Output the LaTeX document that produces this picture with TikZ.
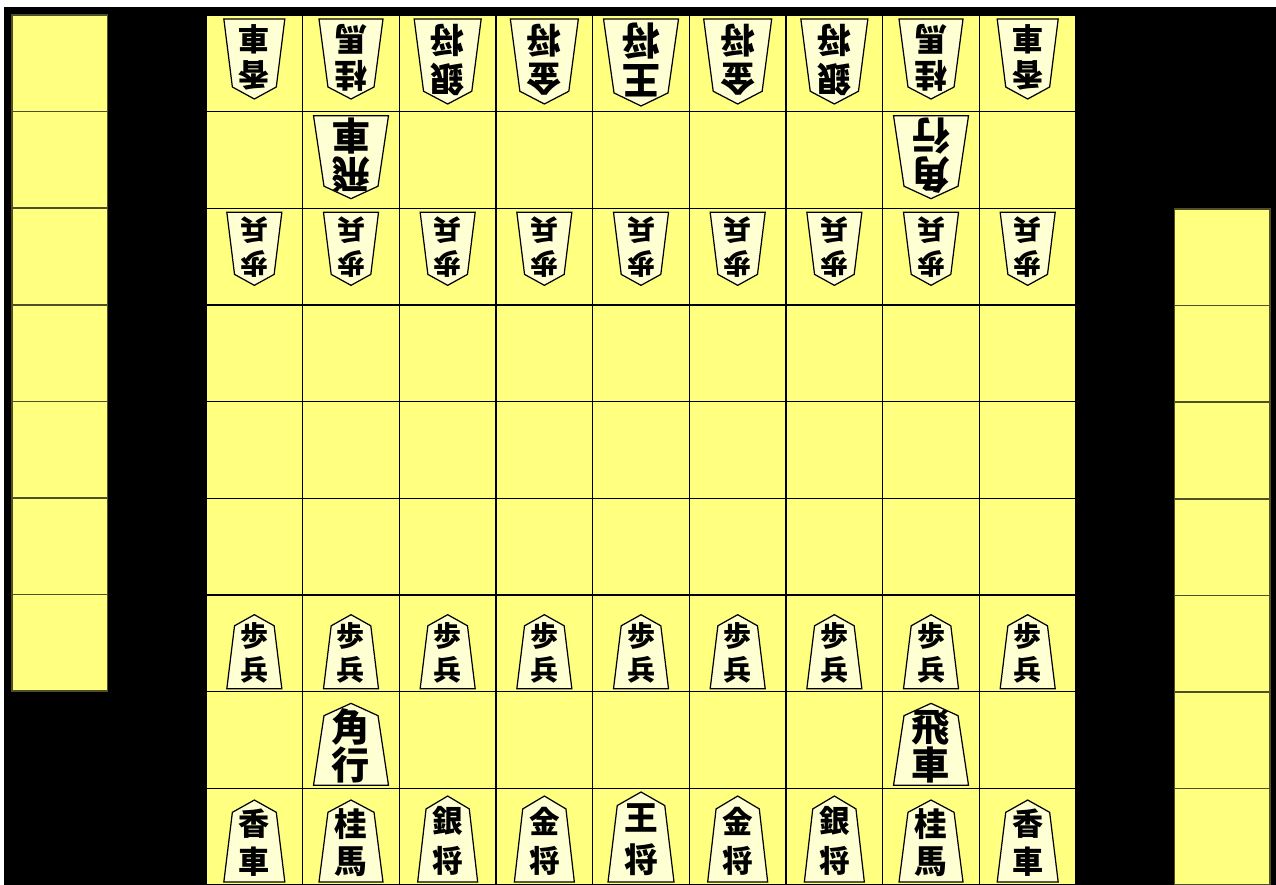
\documentclass[tikz,border=0pt]{standalone}
\usepackage{fontspec}
\newfontfamily\jpfont{Noto Sans CJK JP}
\usepackage{tikz}
\definecolor{brettgelb}{RGB}{255,255,128}
\definecolor{komagelb}{RGB}{255,255,212}
\definecolor{randgrau}{RGB}{80,80,40}
\def\feld{96.67}
% Stein von unten: Spalte, Reihe, Breite, Hoehe, Zeichen oben, Zeichen unten
\newcommand{\sente}[6]{%
	\pgfmathsetmacro\kx{206+(#1-.5)*\feld}%
	\pgfmathsetmacro\ky{15+#2*\feld-3}%
	\pgfmathsetmacro\fs{.29*#3}%
	\draw[koma] (\kx-.5*#3,\ky) -- ++(#3,0) -- ++(-.14*#3,-.85*#4) -- (\kx,\ky-#4) -- (\kx-.36*#3,\ky-.85*#4) -- cycle;
	\node[zeichen, font={\jpfont\bfseries\fontsize{\fs}{\fs}\selectfont}] (s-#1-#2-a) at (\kx,\ky-.71*#4) {#5};
	\node[zeichen, font={\jpfont\bfseries\fontsize{\fs}{\fs}\selectfont}] (s-#1-#2-b) at (\kx,\ky-.25*#4) {#6};
}
% Stein von oben (umgedreht)
\newcommand{\gote}[6]{%
	\pgfmathsetmacro\kx{206+(#1-.5)*\feld}%
	\pgfmathsetmacro\ky{15+(#2-1)*\feld+4}%
	\pgfmathsetmacro\fs{.29*#3}%
	\draw[koma] (\kx-.5*#3,\ky) -- ++(#3,0) -- ++(-.14*#3,.85*#4) -- (\kx,\ky+#4) -- (\kx-.36*#3,\ky+.85*#4) -- cycle;
	\node[zeichen, rotate=180, font={\jpfont\bfseries\fontsize{\fs}{\fs}\selectfont}] (g-#1-#2-a) at (\kx,\ky+.71*#4) {#5};
	\node[zeichen, rotate=180, font={\jpfont\bfseries\fontsize{\fs}{\fs}\selectfont}] (g-#1-#2-b) at (\kx,\ky+.25*#4) {#6};
}

\begin{document}
\begin{tikzpicture}[x=0.02cm, y=-0.02cm,
		feld/.style={draw=black, fill=brettgelb, line width=.8pt},
		hand/.style={draw=randgrau, fill=brettgelb, line width=.8pt},
		koma/.style={draw=black, fill=komagelb, line width=.7pt, line join=miter},
		zeichen/.style={inner sep=0pt, text=black}]
	% Hintergrund
	\useasboundingbox (0,0) rectangle (1276,885);
	\fill[white] (0,0) rectangle (1276,885);
	\fill[black] (4,7) rectangle (1276,885);
	% Spielbrett
	\foreach \r in {0,...,8}
		\foreach \c in {0,...,8}
			\draw[feld] ({206+\c*\feld},{15+\r*\feld}) rectangle ++(\feld,\feld);
	% Felder fuer geschlagene Steine
	\foreach \r in {0,...,6} \draw[hand] (12,{15+\r*96.6}) rectangle ++(95.7,96.6);
	\foreach \r in {0,...,6} \draw[hand] (1174.7,{209+\r*96.6}) rectangle ++(95.3,96.6);
	% Steine oben
	\foreach \c/\w/\h/\a/\b in {1/61/80/香/車, 2/64/80/桂/馬, 3/67/85/銀/将, 4/68/85/金/将, 5/75/87/王/将,
			6/68/85/金/将, 7/67/85/銀/将, 8/64/80/桂/馬, 9/61/80/香/車}
		{\gote{\c}{1}{\w}{\h}{\a}{\b}}
	\gote{2}{2}{75}{83}{飛}{車}
	\gote{8}{2}{75}{83}{角}{行}
	\foreach \c in {1,...,9} {\gote{\c}{3}{55}{73}{歩}{兵}}
	% Steine unten
	\foreach \c in {1,...,9} {\sente{\c}{7}{55}{74}{歩}{兵}}
	\sente{2}{8}{75}{82}{角}{行}
	\sente{8}{8}{75}{82}{飛}{車}
	\foreach \c/\w/\h/\a/\b in {1/61/82/香/車, 2/64/82/桂/馬, 3/60/86/銀/将, 4/60/86/金/将, 5/66/90/王/将,
			6/60/86/金/将, 7/60/86/銀/将, 8/64/82/桂/馬, 9/61/82/香/車}
		{\sente{\c}{9}{\w}{\h}{\a}{\b}}
\end{tikzpicture}
\end{document}
